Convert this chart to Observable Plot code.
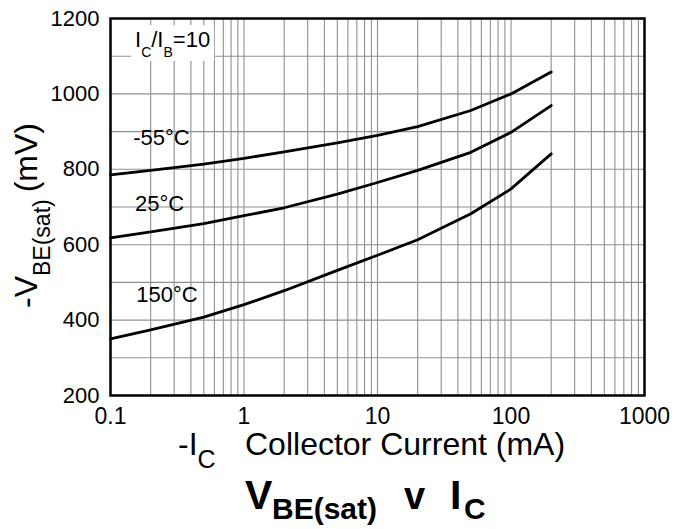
<!DOCTYPE html>
<html>
<head>
<meta charset="utf-8">
<script src="https://cdn.jsdelivr.net/npm/d3@7"></script>
<script src="https://cdn.jsdelivr.net/npm/@observablehq/plot@0.6"></script>
<style>
  body { margin: 0; background: #fff; }
  #chart svg { display: block; }
</style>
</head>
<body>
<div id="chart"></div>
<script>
// Collector current (mA) sample points
const currentsMA = [0.1, 0.2, 0.5, 1, 2, 5, 10, 20, 50, 100, 200];
// -VBE(sat) in mV per temperature
const vbeMinus55 = [785, 797, 814, 829, 846, 870, 890, 913, 956, 1000, 1058];
const vbe25      = [618, 634, 656, 677, 698, 734, 765, 797, 845, 898, 969];
const vbe150     = [350, 374, 408, 441, 478, 532, 572, 613, 682, 748, 841];
const seriesLabels = ["-55°C", "25°C", "150°C"];
// label anchors in data units (mA, mV)
const labelCurrent = [0.241, 0.233, 0.265];
const labelVoltage = [882, 708, 468];
// tick labels
const xTickValues = [0.1, 1, 10, 100, 1000];
const yTickValues = [200, 400, 600, 800, 1000, 1200];

const table = [];
[vbeMinus55, vbe25, vbe150].forEach((vals, i) =>
  vals.forEach((v, j) => table.push({series: seriesLabels[i], current: currentsMA[j], vbe: v})));
const labels = seriesLabels.map((s, i) => ({text: s, current: labelCurrent[i], vbe: labelVoltage[i]}));

const xGrid = d3.scaleLog().domain([0.1, 1000]).ticks();
const yGrid = d3.range(200, 1201, 100);

const FONT = '"Liberation Sans", Arial, Helvetica, sans-serif';

const chart = Plot.plot({
  width: 691,
  height: 529,
  marginLeft: 110,
  marginRight: 47,
  marginTop: 18,
  marginBottom: 134,
  style: {fontFamily: FONT, fontSize: "22px", background: "white", color: "black"},
  x: {type: "log", domain: [0.1, 1000]},
  y: {domain: [200, 1200]},
  marks: [
    Plot.gridX(xGrid, {stroke: "#8f8f8f", strokeOpacity: 1, strokeWidth: 1.1}),
    Plot.gridY(yGrid, {stroke: "#8f8f8f", strokeOpacity: 1, strokeWidth: 1.1}),
    Plot.axisX(xTickValues, {tickSize: 0, tickPadding: 12, fontSize: 23, tickFormat: d => String(d), label: null}),
    Plot.axisY(yTickValues, {tickSize: 0, tickPadding: 11, fontSize: 22, tickFormat: d => String(d), label: null}),
    Plot.line(table, {x: "current", y: "vbe", z: "series", stroke: "black", strokeWidth: 2.8}),
    Plot.frame({stroke: "black", strokeWidth: 2.5}),
    Plot.text(labels, {x: "current", y: "vbe", text: "text", fontSize: 22, fill: "black", ariaLabel: "temp-labels"})
  ]
});

document.getElementById("chart").append(chart);
const svg = d3.select(chart);
const ml = 110, mt = 18;

// IC/IB = 10 annotation
const ratio = svg.append("text")
  .attr("text-anchor", "start")
  .attr("x", ml + 25).attr("y", mt + 29)
  .attr("font-size", 22).attr("fill", "black");
ratio.append("tspan").text("I");
ratio.append("tspan").attr("font-size", 14).attr("dy", 10).text("C");
ratio.append("tspan").attr("dy", -10).text("/I");
ratio.append("tspan").attr("font-size", 14).attr("dy", 10).text("B");
ratio.append("tspan").attr("dy", -10).text("=10");

// white boxes behind in-plot labels
const svgRect = chart.getBoundingClientRect();
const boxG = svg.insert("g", 'g[aria-label="temp-labels"]');
const boxTargets = [...chart.querySelectorAll('g[aria-label="temp-labels"] text'), ratio.node()];
boxTargets.forEach(el => {
  const r = el.getBoundingClientRect();
  boxG.append("rect")
    .attr("x", r.left - svgRect.left - 4)
    .attr("y", r.top - svgRect.top - 2)
    .attr("width", r.width + 8)
    .attr("height", r.height + 3)
    .attr("fill", "white");
});
// move ratio label above its box
chart.appendChild(ratio.node());

// Y axis title
const yt = svg.append("text")
  .attr("text-anchor", "start")
  .attr("transform", "translate(37,308) rotate(-90)")
  .attr("font-size", 32).attr("fill", "black");
yt.append("tspan").text("-V");
yt.append("tspan").attr("font-size", 23).attr("dy", 13).text("BE(sat)");
yt.append("tspan").attr("dy", -13).attr("dx", 7).text("(mV)");

// X axis title
const xt = svg.append("text")
  .attr("text-anchor", "start")
  .attr("x", 178).attr("y", 455)
  .attr("font-size", 32).attr("fill", "black");
xt.append("tspan").text("-I");
xt.append("tspan").attr("font-size", 25).attr("dy", 13).text("C");
xt.append("tspan").attr("x", 245).attr("dy", -13).text("Collector Current (mA)");

// Bottom title
const tt = svg.append("text")
  .attr("text-anchor", "start")
  .attr("y", 509)
  .attr("font-weight", "bold").attr("fill", "black");
tt.append("tspan").attr("x", 245).attr("font-size", 41).text("V");
tt.append("tspan").attr("x", 272).attr("font-size", 30).attr("dy", 10).text("BE(sat)");
tt.append("tspan").attr("x", 404).attr("font-size", 38).attr("dy", -10).text("v");
tt.append("tspan").attr("x", 450).attr("font-size", 41).text("I");
tt.append("tspan").attr("x", 464).attr("font-size", 30).attr("dy", 10).text("C");
</script>
</body>
</html>
